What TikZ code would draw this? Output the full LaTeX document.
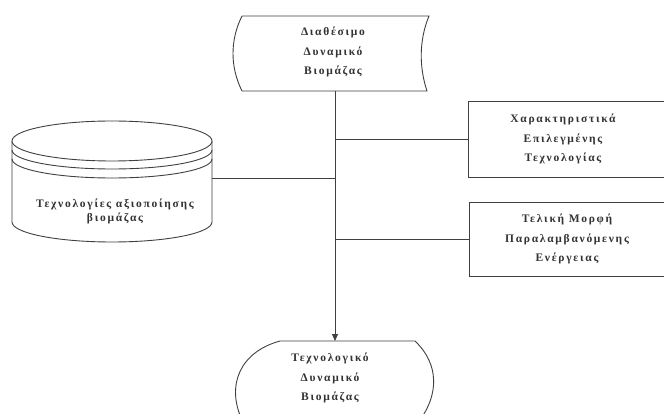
\documentclass[tikz,border=0pt]{standalone}
\usepackage{fontspec}
\setmainfont{Liberation Serif}[LetterSpace=15]
\usetikzlibrary{arrows.meta}
\tikzset{
  ln/.style={line width=0.9pt, draw=black!75},
  lbl/.style={align=center, font=\fontsize{11.5}{19.5}\selectfont\bfseries, text=black!80, inner sep=0pt},
  lbltight/.style={lbl, font=\fontsize{11.5}{14}\selectfont\bfseries},
  anchorbox/.style={inner sep=0pt, outer sep=0pt},
  rbox/.style={ln, anchor=north west, minimum width=222pt, minimum height=76pt, inner sep=0pt, outer sep=0pt},
  arr/.style={ln, -{Triangle[length=7pt,width=6pt]}}
}
\begin{document}
\begin{tikzpicture}[x=1pt,y=-1pt]
\useasboundingbox (0,0) rectangle (664,414);
\fill[white] (0,0) rectangle (664,414);

% invisible anchor nodes for the drawn shapes
\node[anchorbox, minimum width=187pt, minimum height=75pt] (availbox) at (335,53.5) {};
\node[anchorbox, minimum width=200pt, minimum height=116pt] (techbox) at (112,178) {};
\node[anchorbox, minimum width=135pt, minimum height=72pt] (resbox) at (335,377) {};

% top shape (stored data)
\draw[ln, fill=white] (242,16) -- (429,16) .. controls (419,40) and (419,67) .. (427,91)
  -- (242,91) .. controls (230,67) and (230,40) .. (242,16);
\node[lbl] (avail) at (333,52) {Διαθέσιμο\\Δυναμικό\\Βιομάζας};

% cylinder
\draw[ln, fill=white] (12,141) -- (12,222) arc[start angle=180, end angle=360, x radius=100pt, y radius=20pt] -- (212,141);
\draw[ln, fill=white] (112,141) ellipse [x radius=100pt, y radius=20pt];
\draw[ln] (12,150) arc[start angle=180, end angle=360, x radius=100pt, y radius=19pt];
\draw[ln] (12,159) arc[start angle=180, end angle=360, x radius=100pt, y radius=19pt];
\node[lbltight] (tech) at (115,211) {Τεχνολογίες αξιοποίησης\\βιομάζας};

% right boxes
\node[rbox] (b1) at (468,101) {};
\node[lbl] (b1t) at (563,139) {Χαρακτηριστικά\\Επιλεγμένης\\Τεχνολογίας};
\node[rbox, minimum height=74pt] (b2) at (469,202) {};
\node[lbl] (b2t) at (567,239) {Τελική Μορφή\\Παραλαμβανόμενης\\Ενέργειας};

% bottom shape
\draw[ln, fill=white] (242,420) .. controls (226,385) and (240,352) .. (280,341)
  -- (415,341) .. controls (440,365) and (438,395) .. (420,420);
\node[lbl] (res) at (330,378) {Τεχνολογικό\\Δυναμικό\\Βιομάζας};

% connectors
\draw[arr] (availbox.south) -- (resbox.north);
\draw[ln] (b1.west) -- (availbox.south |- b1.west);
\draw[ln] (b2.west) -- (availbox.south |- b2.west);
\draw[ln] (techbox.east) -- (availbox.south |- techbox.east);
\end{tikzpicture}
\end{document}
